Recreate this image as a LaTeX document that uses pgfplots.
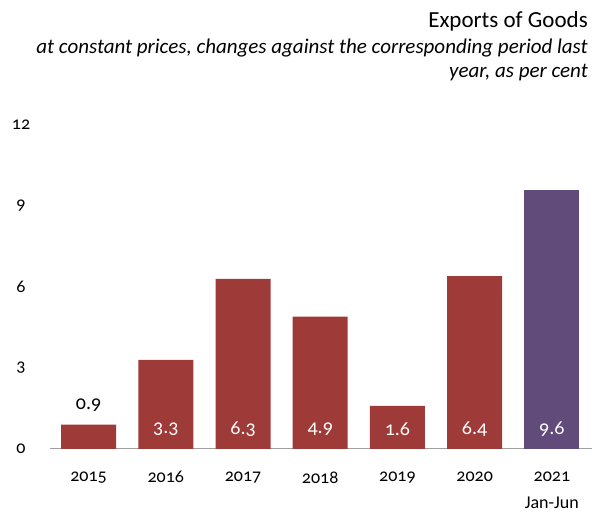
\documentclass[border=0pt]{standalone}
\usepackage{fontspec}
\setmainfont{Carlito}[Numbers=OldStyle]
\usepackage{pgfplots}
\pgfplotsset{compat=1.18}
\definecolor{barred}{RGB}{158,59,57}
\definecolor{barpurple}{RGB}{96,75,122}
\definecolor{basegray}{RGB}{160,160,160}
\begin{document}
\begin{tikzpicture}[x=1bp,y=1bp]
\path[use as bounding box] (0,0) rectangle (602,513);
\node[anchor=east, font=\fontsize{23bp}{26bp}\selectfont, inner sep=0pt] at (588,492) {Exports of Goods};
\node[anchor=north east, align=right, font=\fontsize{21bp}{24bp}\selectfont\itshape, inner sep=0pt] at (588,474) {at constant prices, changes against the corresponding period last\\year, as per cent};
\begin{axis}[
  at={(50bp,64bp)}, anchor=south west,
  scale only axis, width=542bp, height=324bp,
  xmin=-0.5, xmax=6.52, ymin=0, ymax=12,
  ytick={0,3,6,9,12},
  xtick={0,1,2,3,4,5,6},
  xticklabels={2015,2016,2017,2018,2019,2020,{2021\\[5bp]Jan-Jun}},
  every x tick label/.append style={align=center, font=\fontsize{18bp}{22bp}\selectfont, yshift=-19bp},
  every y tick label/.append style={anchor=center, xshift=-29bp, font=\fontsize{18bp}{21bp}\selectfont},
  /pgf/number format/assume math mode=true,
  major tick length=0pt,
  axis x line*=bottom,
  axis y line*=left,
  x axis line style={draw=basegray, line width=1pt, -},
  y axis line style={draw=none},
  clip=false,
]
\addplot[ybar, bar width=55bp, bar shift=0pt, fill=barred, draw=none] coordinates {(0,0.9) (1,3.3) (2,6.3) (3,4.9) (4,1.6) (5,6.4)};
\addplot[ybar, bar width=55bp, bar shift=0pt, fill=barpurple, draw=none] coordinates {(6,9.6)};
\addplot[only marks, mark=none, nodes near coords, point meta=explicit symbolic,
  nodes near coords style={white, anchor=center, font=\fontsize{20bp}{22bp}\selectfont}]
  coordinates {(1,0.75)[3.3] (2,0.75)[6.3] (3,0.75)[4.9] (4,0.75)[1.6] (5,0.75)[6.4] (6,0.75)[9.6]};
\addplot[only marks, mark=none, nodes near coords, point meta=explicit symbolic,
  nodes near coords style={black, anchor=center, font=\fontsize{20bp}{22bp}\selectfont}]
  coordinates {(0,1.63)[0.9]};
\end{axis}
\end{tikzpicture}
\end{document}
